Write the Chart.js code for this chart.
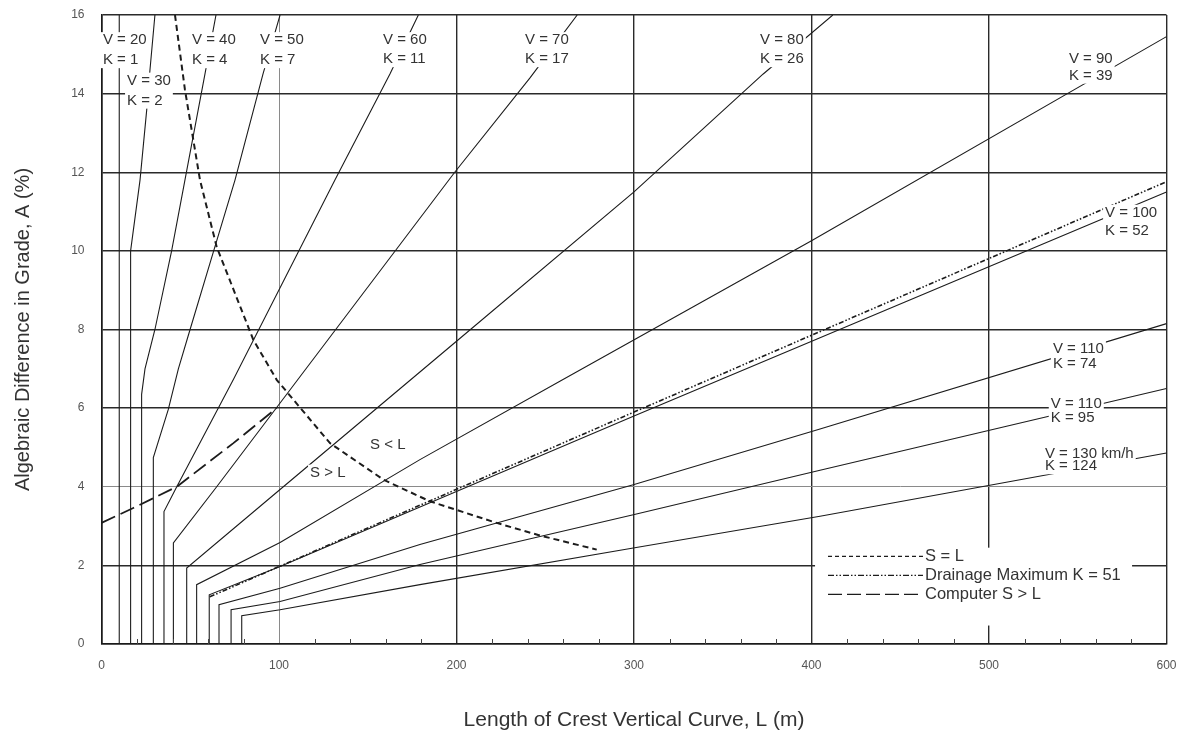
<!DOCTYPE html>
<html>
<head>
<meta charset="utf-8">
<script src="https://cdn.jsdelivr.net/npm/chart.js@4.4.1/dist/chart.umd.min.js"></script>
<style>
html,body{margin:0;background:#fff}
</style>
</head>
<body>
<canvas id="c" width="1182" height="735"></canvas>
<script>
// crest curve data: [L (m), A (%)]
const k1   = [[10,0],[10,16]];
const k2   = [[16.4,0],[16.4,10.0],[21.7,11.8],[25.5,13.6],[27.3,14.6],[30.1,16]];
const k4   = [[22.6,0],[22.6,6.35],[24.5,7.0],[30.1,8],[39.5,10],[47,11.8],[58.3,14.5],[64.5,16]];
const k7   = [[29.2,0],[29.2,4.74],[37.6,5.96],[43.3,7.0],[49.9,8],[63.2,10],[75.2,11.8],[91,14.5],[100.6,16]];
const k11  = [[35.2,0],[35.2,3.37],[42.4,4.0],[74.3,6.73],[131.5,11.8],[162.5,14.5],[178.5,16]];
const k17  = [[40.5,0],[40.5,2.57],[64.9,4.0],[199,12],[241.4,14.4],[268,16]];
const k26  = [[48,0],[48,1.93],[100.6,3.93],[200,7.7],[300,11.5],[372.8,14.5],[412,16]];
const k39  = [[53.6,0],[53.6,1.51],[100.6,2.58],[179.4,4.69],[260,6.73],[400,10.26],[600,15.45]];
const k52  = [[60.7,0],[60.7,1.25],[100.6,1.97],[300,5.8],[600,11.5]];
const k74  = [[66.2,0],[66.2,1.0],[100.6,1.42],[179.4,2.53],[299.6,4.05],[404.8,5.47],[600,8.15]];
const k95  = [[73,0],[73,0.87],[100.6,1.08],[179.4,2.02],[299.6,3.29],[404.8,4.42],[600,6.5]];
const k124 = [[79,0],[79,0.72],[100.6,0.87],[179.4,1.51],[299.6,2.44],[404.8,3.25],[600,4.86]];

const sEqualsL   = [[41.4,16],[47,14.1],[55.5,11.8],[64.9,10.1],[85.5,7.74],[98.7,6.72],[128.7,5.11],[158.8,4.18],[185,3.63],[222.6,3.08],[247,2.76],[279,2.4]];
const drainage   = [[61,1.2],[100.6,1.98],[300,5.9],[600,11.76]];
const computerSL = [[0,3.08],[17.9,3.46],[42.4,4.0],[74.3,5.11],[98.7,6.0]];

const xTicks = [0,100,200,300,400,500,600];
const yTicks = [0,2,4,6,8,10,12,14,16];

const curves = [k1,k2,k4,k7,k11,k17,k26,k39,k52,k74,k95,k124];
const pts = arr => arr.map(p => ({x:p[0], y:p[1]}));

const INK = '#1c1c1c';
const FONT = '"Liberation Sans", Arial, sans-serif';

const datasets = curves.map(c => ({
  data: pts(c), showLine:true, borderColor:INK, borderWidth:1.1, pointRadius:0, fill:false
}));
datasets.push({ data:pts(sEqualsL), showLine:true, borderColor:INK, borderWidth:2, borderDash:[6,4], pointRadius:0 });
datasets.push({ data:pts(drainage), showLine:true, borderColor:INK, borderWidth:1.6, borderDash:[5,2,1.5,2,1.5,2], pointRadius:0 });
datasets.push({ data:pts(computerSL), showLine:true, borderColor:INK, borderWidth:1.8, borderDash:[15,6], pointRadius:0 });

// text placed in data units: left x, centre of first line, line gap px
const curveLabels = [
  {l:0.8,   a:15.36, gap:20, t:['V = 20','K = 1']},
  {l:14.4,  a:14.33, gap:20, t:['V = 30','K = 2']},
  {l:51,    a:15.36, gap:20, t:['V = 40','K = 4']},
  {l:89.3,  a:15.36, gap:20, t:['V = 50','K = 7']},
  {l:158.6, a:15.36, gap:19, t:['V = 60','K = 11']},
  {l:238.6, a:15.36, gap:19, t:['V = 70','K = 17']},
  {l:371,   a:15.36, gap:19, t:['V = 80','K = 26']},
  {l:545,   a:14.89, gap:17, t:['V = 90','K = 39']},
  {l:565.4, a:10.97, gap:18, t:['V = 100','K = 52']},
  {l:536,   a:7.51,  gap:15, t:['V = 110','K = 74']},
  {l:534.8, a:6.11,  gap:14, t:['V = 110','K = 95']},
  {l:531.5, a:4.84,  gap:12.5, t:['V = 130 km/h','K = 124']},
  {l:151.3, a:5.07,  gap:0,  t:['S < L']},
  {l:117.5, a:4.36,  gap:0,  t:['S > L']}
];

const legendRows = [
  {t:'S = L', dash:[4,3], w:1.2},
  {t:'Drainage Maximum K = 51', dash:[6,2,1.5,2,1.5,2], w:1.3},
  {t:'Computer S > L', dash:[14,5], w:1.4}
];

const overlay = {
  id:'overlay',
  afterDatasetsDraw(chart){
    const {ctx, scales:{x, y}, chartArea:ca} = chart;
    ctx.save();
    // minor ticks every 20 m
    ctx.strokeStyle = '#444'; ctx.lineWidth = 1;
    for(let v=20; v<600; v+=20){
      if(v % 100 === 0) continue;
      const px = Math.round(x.getPixelForValue(v)) + 0.5;
      ctx.beginPath(); ctx.moveTo(px, ca.bottom); ctx.lineTo(px, ca.bottom-5); ctx.stroke();
    }
    ctx.font = '15px ' + FONT;
    ctx.textBaseline = 'middle';
    curveLabels.forEach(lb => {
      const px = x.getPixelForValue(lb.l), py = y.getPixelForValue(lb.a);
      const w = Math.max(...lb.t.map(s => ctx.measureText(s).width));
      const h = (lb.t.length-1)*lb.gap + 14;
      ctx.fillStyle = '#fff';
      ctx.fillRect(px-2, py-8, w+4, h+2);
      ctx.fillStyle = '#333';
      lb.t.forEach((s,i) => ctx.fillText(s, px, py + i*lb.gap));
    });
    // legend
    const bx0 = x.getPixelForValue(402), bx1 = x.getPixelForValue(580.6);
    const by0 = y.getPixelForValue(2.45), by1 = y.getPixelForValue(0.47);
    ctx.fillStyle = '#fff';
    ctx.fillRect(bx0, by0, bx1-bx0, by1-by0);
    const sx0 = x.getPixelForValue(409.3), sx1 = x.getPixelForValue(462.8);
    ctx.font = '16.5px ' + FONT;
    legendRows.forEach((r,i) => {
      const py = y.getPixelForValue(2.23) + i*19;
      ctx.strokeStyle = INK; ctx.lineWidth = r.w; ctx.setLineDash(r.dash);
      ctx.beginPath(); ctx.moveTo(sx0, py); ctx.lineTo(sx1, py); ctx.stroke();
      ctx.setLineDash([]);
      ctx.fillStyle = '#333';
      ctx.fillText(r.t, sx1 + 2, py);
    });
    ctx.restore();
  }
};

const gridColor = (ctx, light) => ctx.tick && ctx.tick.value === light ? '#8a8a8a' : '#2a2a2a';

new Chart(document.getElementById('c'), {
  type:'scatter',
  data:{ datasets },
  options:{
    responsive:false,
    animation:false,
    layout:{ padding:{ left:0, right:15.5, top:15, bottom:0 } },
    plugins:{ legend:{display:false}, tooltip:{enabled:false} },
    scales:{
      x:{
        type:'linear', min:0, max:600,
        afterBuildTicks: s => { s.ticks = xTicks.map(v => ({value:v})); },
        afterFit: s => { s.height = 91; s.paddingLeft = 0; s.paddingRight = 0; },
        grid:{ color: c => gridColor(c,100), lineWidth: c => c.tick && c.tick.value===100 ? 1 : 1.4, drawTicks:false },
        border:{ color:'#1a1a1a', width:1.6 },
        ticks:{ color:'#555', font:{family:FONT, size:12}, padding:14 },
        title:{ display:true, text:'Length of Crest Vertical Curve, L (m)', color:'#333', font:{family:FONT, size:21}, padding:{top:0, bottom:2} }
      },
      y:{
        type:'linear', min:0, max:16,
        afterBuildTicks: s => { s.ticks = yTicks.map(v => ({value:v})); },
        afterFit: s => { s.width = 101.5; s.paddingTop = 0; s.paddingBottom = 0; },
        grid:{ color: c => gridColor(c,4), lineWidth: c => c.tick && c.tick.value===4 ? 1 : 1.4, drawTicks:false },
        border:{ color:'#1a1a1a', width:1.6 },
        ticks:{ color:'#555', font:{family:FONT, size:12}, padding:17 },
        title:{ display:true, text:'Algebraic Difference in Grade, A (%)', color:'#333', font:{family:FONT, size:20}, padding:{top:11, bottom:0} }
      }
    }
  },
  plugins:[overlay]
});
</script>
</body>
</html>
